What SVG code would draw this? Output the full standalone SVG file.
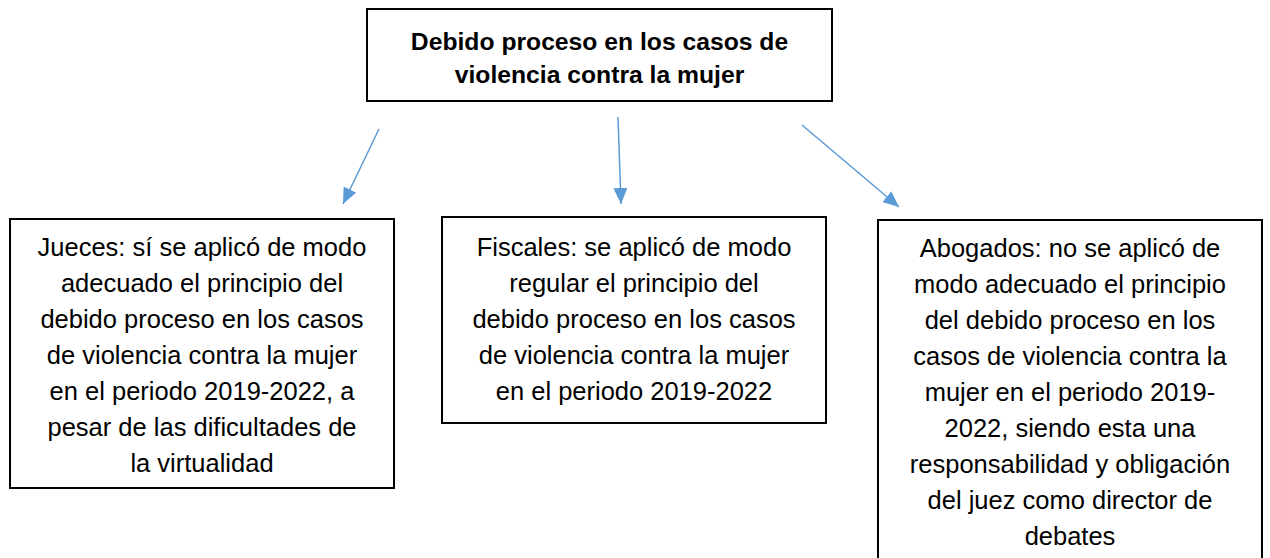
<svg xmlns="http://www.w3.org/2000/svg" width="1270" height="558" viewBox="0 0 1270 558">
<defs>
<style>
.box{fill:#fff;stroke:#000;stroke-width:2}
.t{font-family:"Liberation Sans",Arial,sans-serif;font-size:25.5px;fill:#000;text-anchor:middle}
.b{font-weight:bold;font-size:24.7px}
.c{stroke:#5B9BD5;stroke-width:1.5;fill:none}
</style>
<marker id="ah" viewBox="0 0 10 10" refX="10" refY="5" markerWidth="10" markerHeight="10" markerUnits="userSpaceOnUse" orient="auto">
<path d="M0,0 L10,5 L0,10 z" fill="#5B9BD5"/>
</marker>
<marker id="ah2" viewBox="0 0 16 14" refX="16" refY="7" markerWidth="16" markerHeight="14" markerUnits="userSpaceOnUse" orient="auto">
<path d="M0,0 L16,7 L0,14 z" fill="#5B9BD5"/>
</marker>
</defs>
<rect width="1270" height="558" fill="#fff"/>
<g id="connectors">
<line class="c" x1="379" y1="129" x2="343" y2="204" marker-end="url(#ah2)"/>
<line class="c" x1="618" y1="117" x2="621" y2="204" marker-end="url(#ah2)"/>
<line class="c" x1="802" y1="125" x2="899" y2="207" marker-end="url(#ah2)"/>
</g>
<g id="root">
<rect class="box" x="367" y="9" width="465" height="92"/>
<text class="t b" x="599.5" y="50">Debido proceso en los casos de</text>
<text class="t b" x="599.5" y="83">violencia contra la mujer</text>
</g>
<g id="jueces">
<rect class="box" x="10" y="219" width="384" height="269"/>
<text class="t" x="202" y="256">Jueces: sí se aplicó de modo</text>
<text class="t" x="202" y="292">adecuado el principio del</text>
<text class="t" x="202" y="328">debido proceso en los casos</text>
<text class="t" x="202" y="364">de violencia contra la mujer</text>
<text class="t" x="202" y="400">en el periodo 2019-2022, a</text>
<text class="t" x="202" y="436">pesar de las dificultades de</text>
<text class="t" x="202" y="472">la virtualidad</text>
</g>
<g id="fiscales">
<rect class="box" x="442" y="217" width="384" height="206"/>
<text class="t" x="634" y="256">Fiscales: se aplicó de modo</text>
<text class="t" x="634" y="292">regular el principio del</text>
<text class="t" x="634" y="328">debido proceso en los casos</text>
<text class="t" x="634" y="364">de violencia contra la mujer</text>
<text class="t" x="634" y="400">en el periodo 2019-2022</text>
</g>
<g id="abogados">
<rect class="box" x="878" y="220" width="384" height="350"/>
<text class="t" x="1070" y="257">Abogados: no se aplicó de</text>
<text class="t" x="1070" y="293">modo adecuado el principio</text>
<text class="t" x="1070" y="329">del debido proceso en los</text>
<text class="t" x="1070" y="365">casos de violencia contra la</text>
<text class="t" x="1070" y="401">mujer en el periodo 2019-</text>
<text class="t" x="1070" y="437">2022, siendo esta una</text>
<text class="t" x="1070" y="473">responsabilidad y obligación</text>
<text class="t" x="1070" y="509">del juez como director de</text>
<text class="t" x="1070" y="545">debates</text>
</g>
</svg>
